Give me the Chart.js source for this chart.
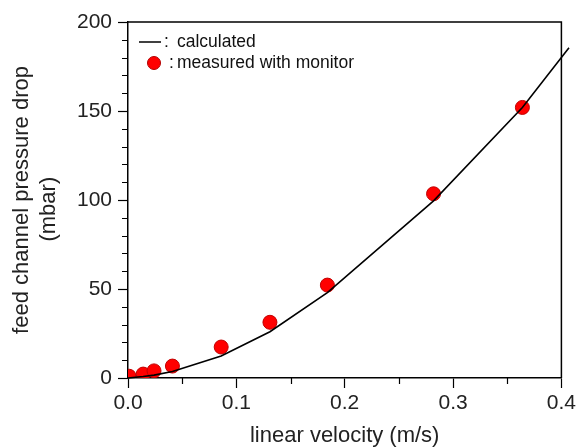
<!DOCTYPE html>
<html>
<head>
<meta charset="utf-8">
<script src="https://cdn.jsdelivr.net/npm/chart.js@4"></script>
<style>
  html, body { margin: 0; padding: 0; background: #fff; }
  #wrap { width: 579px; height: 447px; }
</style>
</head>
<body>
<div id="wrap"><canvas id="myChart" width="579" height="447"></canvas></div>
<script>
// measured points (linear velocity m/s, pressure drop mbar)
var measuredX = [0.001, 0.014, 0.024, 0.041, 0.086, 0.131, 0.184, 0.282, 0.364];
var measuredY = [1, 2.2, 4, 6.7, 17.4, 31.3, 52.2, 103.5, 152];

// calculated curve
var calcX = [0, 0.014, 0.024, 0.041, 0.086, 0.131, 0.184, 0.282, 0.364, 0.407];
var calcY = [0, 0.8, 1.6, 3.6, 12.4, 26, 48, 99.5, 152, 185.5];

var xTicks = [0, 0.1, 0.2, 0.3, 0.4];
var yTicks = [0, 50, 100, 150, 200];

var legendLabels = ['calculated', 'measured with monitor'];

function toPoints(xs, ys) {
    return xs.map(function (x, i) { return { x: x, y: ys[i] }; });
}

// frame, minor ticks and the inside legend
var decorations = {
    id: 'decorations',
    afterDraw: function (chart) {
        var ctx = chart.ctx;
        var a = chart.chartArea;
        var xs = chart.scales.x;
        var ys = chart.scales.y;
        ctx.save();
        ctx.strokeStyle = '#000';
        ctx.lineWidth = 1.5;

        // top and right border
        ctx.beginPath();
        ctx.moveTo(a.left, a.top);
        ctx.lineTo(a.right, a.top);
        ctx.lineTo(a.right, a.bottom);
        ctx.stroke();

        // minor ticks
        ctx.lineWidth = 1.2;
        ctx.beginPath();
        for (var v = 10; v < 200; v += 10) {
            if (v % 50 === 0) continue;
            var py = Math.round(ys.getPixelForValue(v)) + 0.5;
            ctx.moveTo(a.left - 6, py);
            ctx.lineTo(a.left, py);
        }
        for (var k = 1; k < 8; k += 2) {
            var px = Math.round(xs.getPixelForValue(k * 0.05)) + 0.5;
            ctx.moveTo(px, a.bottom);
            ctx.lineTo(px, a.bottom + 6);
        }
        ctx.stroke();

        // legend
        ctx.font = '17.5px "Liberation Sans", Arial, sans-serif';
        ctx.fillStyle = '#111';
        ctx.textBaseline = 'middle';
        ctx.lineWidth = 1.5;
        ctx.beginPath();
        ctx.moveTo(a.left + 11, a.top + 20);
        ctx.lineTo(a.left + 33, a.top + 20);
        ctx.stroke();
        ctx.fillText(':', a.left + 36, a.top + 20);
        ctx.fillText(legendLabels[0], a.left + 49, a.top + 20);

        ctx.beginPath();
        ctx.arc(a.left + 26, a.top + 41, 6.5, 0, Math.PI * 2);
        ctx.fillStyle = '#ff0000';
        ctx.fill();
        ctx.strokeStyle = '#b00000';
        ctx.lineWidth = 1;
        ctx.stroke();
        ctx.fillStyle = '#111';
        ctx.fillText(':', a.left + 41, a.top + 41);
        ctx.fillText(legendLabels[1], a.left + 49, a.top + 41);
        ctx.restore();
    }
};

var fam = '"Liberation Sans", Arial, sans-serif';
var tickFont = { family: fam, size: 21 };

var ctx = document.getElementById('myChart').getContext('2d');
var myChart = new Chart(ctx, {
    type: 'scatter',
    data: {
        datasets: [
            {
                label: 'calculated',
                data: toPoints(calcX, calcY),
                showLine: true,
                borderColor: '#000',
                borderWidth: 1.6,
                pointRadius: 0,
                tension: 0,
                clip: false
            },
            {
                label: 'measured with monitor',
                data: toPoints(measuredX, measuredY),
                backgroundColor: '#ff0000',
                borderColor: '#c00000',
                borderWidth: 1,
                pointRadius: 7
            }
        ]
    },
    options: {
        responsive: false,
        animation: false,
        layout: { padding: { top: 22, right: 15, left: 0, bottom: 0 } },
        plugins: {
            legend: { display: false },
            tooltip: { enabled: false }
        },
        scales: {
            x: {
                type: 'linear',
                min: 0,
                max: 0.4,
                afterBuildTicks: function (scale) {
                    scale.ticks = xTicks.map(function (v) { return { value: v }; });
                },
                afterFit: function (scale) { scale.height = 69; },
                ticks: {
                    color: '#222',
                    font: tickFont,
                    padding: 3,
                    maxRotation: 0,
                    callback: function (v) { return Number(v).toFixed(1); }
                },
                grid: {
                    drawOnChartArea: false,
                    drawTicks: true,
                    tickLength: 10,
                    tickColor: '#000',
                    tickWidth: 1.2
                },
                border: { display: true, color: '#000', width: 1.5 },
                title: {
                    display: true,
                    text: 'linear velocity (m/s)',
                    color: '#222',
                    font: { family: fam, size: 22, lineHeight: 1.0 },
                    padding: { top: 0, bottom: 0 }
                }
            },
            y: {
                type: 'linear',
                min: 0,
                max: 200,
                afterBuildTicks: function (scale) {
                    scale.ticks = yTicks.map(function (v) { return { value: v }; });
                },
                afterFit: function (scale) { scale.width = 128; },
                ticks: {
                    color: '#222',
                    font: tickFont,
                    padding: 6
                },
                grid: {
                    drawOnChartArea: false,
                    drawTicks: true,
                    tickLength: 10,
                    tickColor: '#000',
                    tickWidth: 1.2
                },
                border: { display: true, color: '#000', width: 1.5 },
                title: {
                    display: true,
                    // trailing spaces nudge "(mbar)" down a little, as in the original
                    text: ['feed channel pressure drop', '(mbar)   '],
                    color: '#222',
                    font: { family: fam, size: 22, lineHeight: 1.25 },
                    padding: { top: 8, bottom: 0 }
                }
            }
        }
    },
    plugins: [decorations]
});
</script>
</body>
</html>
